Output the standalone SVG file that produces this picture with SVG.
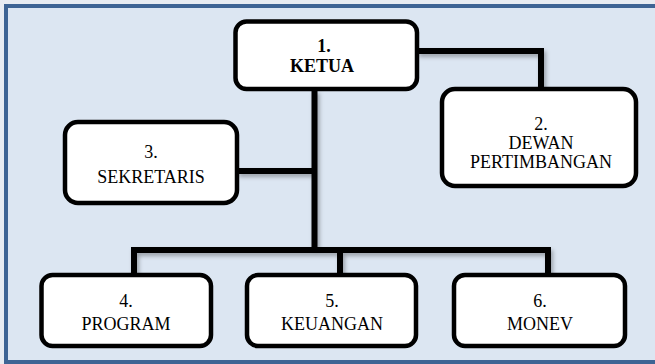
<svg xmlns="http://www.w3.org/2000/svg" width="655" height="364" viewBox="0 0 655 364">
  <defs>
    <filter id="sh" x="-10%" y="-10%" width="130%" height="140%">
      <feDropShadow dx="2" dy="3" stdDeviation="2" flood-color="#000" flood-opacity="0.3"/>
    </filter>
  </defs>
  <style>
    .box { fill: #ffffff; stroke: #000000; stroke-width: 4.5; }
    .conn { fill: none; stroke: #000000; stroke-width: 6; stroke-linejoin: miter; }
    .t { font-size: 18px; fill: #000000; text-anchor: middle; }
    .b { font-weight: bold; }
  </style>
  <rect x="0" y="0" width="655" height="364" fill="#E8ECF2"/>
  <rect x="6" y="6" width="700" height="356" fill="#DCE6F2" stroke="#3E6494" stroke-width="4"/>

  <g id="connectors" filter="url(#sh)">
    <path class="conn" d="M417 51 H541 V89"/>
    <path class="conn" d="M314.5 90 V250"/>
    <path class="conn" d="M237 171 H314.5"/>
    <path class="conn" d="M134 275 V250 H548 V275"/>
    <path class="conn" d="M340 250 V275"/>
  </g>

  <g class="t" font-family="Liberation Serif, Times New Roman, serif">
  <g id="node1">
    <rect class="box" x="235.5" y="21.5" width="181.5" height="67.5" rx="11"/>
    <text class="b" x="324" y="52">1.</text>
    <text class="b" x="322" y="72">KETUA</text>
  </g>
  <g id="node2">
    <rect class="box" x="442" y="89" width="194" height="97" rx="13"/>
    <text x="541" y="130">2.</text>
    <text x="541" y="149">DEWAN</text>
    <text x="541" y="168">PERTIMBANGAN</text>
  </g>
  <g id="node3">
    <rect class="box" x="65" y="122" width="172" height="81" rx="13"/>
    <text x="151" y="158">3.</text>
    <text x="151" y="183">SEKRETARIS</text>
  </g>
  <g id="node4">
    <rect class="box" x="41.5" y="275" width="169.5" height="71" rx="11"/>
    <text x="126" y="307">4.</text>
    <text x="126" y="330">PROGRAM</text>
  </g>
  <g id="node5">
    <rect class="box" x="247" y="275" width="169" height="71" rx="11"/>
    <text x="332" y="307">5.</text>
    <text x="332" y="330">KEUANGAN</text>
  </g>
  <g id="node6">
    <rect class="box" x="454" y="275" width="171" height="71" rx="11"/>
    <text x="540" y="307">6.</text>
    <text x="540" y="330">MONEV</text>
  </g>
  </g>
</svg>
